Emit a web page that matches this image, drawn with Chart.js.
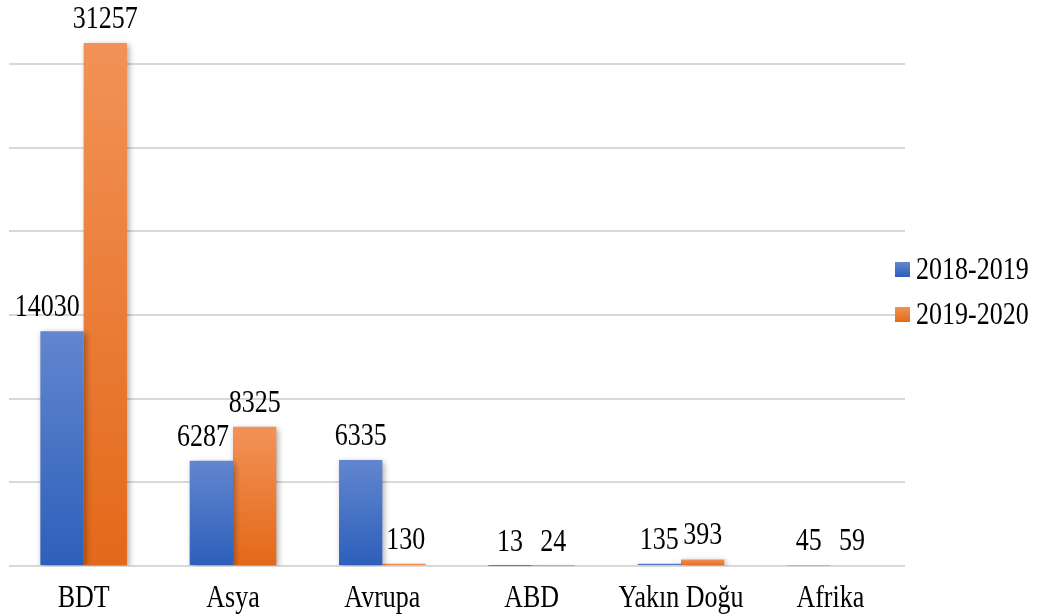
<!DOCTYPE html>
<html>
<head>
<meta charset="utf-8">
<script src="https://cdn.jsdelivr.net/npm/chart.js@4.4.0/dist/chart.umd.min.js"></script>
<style>
  html, body { margin: 0; padding: 0; background: #fff; }
  #wrap { width: 1040px; height: 616px; }
</style>
</head>
<body>
<div id="wrap"><canvas id="myChart" width="1040" height="616"></canvas></div>
<script>
// Data
const categories = ['BDT', 'Asya', 'Avrupa', 'ABD', 'Yakın Doğu', 'Afrika'];
const seriesNames = ['2018-2019', '2019-2020'];
const values2018 = [14030, 6287, 6335, 13, 135, 45];
const values2019 = [31257, 8325, 130, 24, 393, 59];
const gridTicks = [0, 5000, 10000, 15000, 20000, 25000, 30000];

const FONT = "'Liberation Serif', 'Times New Roman', serif";
const TEXT_STRETCH = 1.2; // teks di gambar asli sedikit lebih tinggi
const blueStops = ['#6286cf', '#2d5fba'];
const orangeStops = ['#f29257', '#e3691a'];

// Gradient per bar, top lighter, bottom darker
function barGradient(stops) {
    return function (context) {
        const chart = context.chart;
        const area = chart.chartArea;
        if (!area || context.type !== 'data') return stops[1];
        const y = chart.scales.y;
        const top = y.getPixelForValue(context.raw);
        const base = y.getPixelForValue(0);
        if (base - top < 2) return stops[1];
        const g = chart.ctx.createLinearGradient(0, top, 0, base);
        g.addColorStop(0, stops[0]);
        g.addColorStop(1, stops[1]);
        return g;
    };
}

// Menulis teks yang sedikit diregangkan secara vertikal
function drawText(ctx, text, x, baseline) {
    ctx.save();
    ctx.translate(x, baseline);
    ctx.scale(1, TEXT_STRETCH);
    ctx.fillText(text, 0, 0);
    ctx.restore();
}

// Drop shadow under bars
const shadowPlugin = {
    id: 'barShadow',
    beforeDatasetsDraw(chart) {
        const ctx = chart.ctx;
        ctx.save();
        ctx.shadowColor = 'rgba(0,0,0,0.35)';
        ctx.shadowBlur = 6;
        ctx.shadowOffsetX = 2;
        ctx.shadowOffsetY = 2;
    },
    afterDatasetsDraw(chart) {
        chart.ctx.restore();
    }
};

// Value labels above the bars + category labels
const textPlugin = {
    id: 'textPlugin',
    afterDatasetsDraw(chart) {
        const ctx = chart.ctx;
        ctx.save();
        ctx.font = '26px ' + FONT;
        ctx.fillStyle = '#000';
        ctx.textAlign = 'center';
        ctx.textBaseline = 'alphabetic';
        const metas = chart.data.datasets.map((d, i) => chart.getDatasetMeta(i));
        metas.forEach((meta, di) => {
            meta.data.forEach((bar, i) => {
                const text = String(chart.data.datasets[di].data[i]);
                const w = ctx.measureText(text).width;
                const baseline = bar.y - 15;
                let x = bar.x;
                // geser label jika menabrak batang sebelahnya yang lebih tinggi
                const other = metas[1 - di] && metas[1 - di].data[i];
                if (other && other.y < baseline) {
                    const half = bar.width / 2;
                    if (other.x > bar.x && x + w / 2 > other.x - half - 4) {
                        x = other.x - half - 4 - w / 2;
                    } else if (other.x < bar.x && x - w / 2 < other.x + half + 4) {
                        x = other.x + half + 4 + w / 2;
                    }
                }
                drawText(ctx, text, x, baseline);
            });
        });
        // label kategori di bawah sumbu
        const xScale = chart.scales.x;
        chart.data.labels.forEach((lab, i) => {
            drawText(ctx, lab, xScale.getPixelForValue(i), chart.chartArea.bottom + 41);
        });
        ctx.restore();
    }
};

// Legend on the right
const sideLegend = {
    id: 'sideLegend',
    afterDraw(chart) {
        const ctx = chart.ctx;
        const stops = [blueStops, orangeStops];
        ctx.save();
        ctx.font = '26px ' + FONT;
        ctx.textBaseline = 'alphabetic';
        chart.data.datasets.forEach((ds, i) => {
            const y = 262 + i * 45;
            const g = ctx.createLinearGradient(0, y, 0, y + 15);
            g.addColorStop(0, stops[i][0]);
            g.addColorStop(1, stops[i][1]);
            ctx.fillStyle = g;
            ctx.fillRect(895, y, 15, 15);
            ctx.fillStyle = '#000';
            drawText(ctx, ds.label, 916, y + 17);
        });
        ctx.restore();
    }
};

const ctx = document.getElementById('myChart').getContext('2d');
const chart = new Chart(ctx, {
    type: 'bar',
    data: {
        labels: categories,
        datasets: [
            { label: seriesNames[0], data: values2018, backgroundColor: barGradient(blueStops) },
            { label: seriesNames[1], data: values2019, backgroundColor: barGradient(orangeStops) }
        ]
    },
    options: {
        responsive: false,
        animation: false,
        layout: { padding: { left: 9, right: 135, top: 0, bottom: 50 } },
        datasets: {
            bar: { categoryPercentage: 0.58, barPercentage: 1.0, borderWidth: 0 }
        },
        plugins: {
            legend: { display: false },
            tooltip: { enabled: false }
        },
        scales: {
            x: {
                grid: { display: false, drawTicks: false },
                border: { display: false },
                ticks: { display: false }
            },
            y: {
                min: 0,
                max: 33825,
                grid: { color: '#d9d9d9', lineWidth: 2, drawTicks: false },
                border: { display: false },
                ticks: { display: false },
                afterBuildTicks(axis) {
                    axis.ticks = gridTicks.map(v => ({ value: v }));
                }
            }
        }
    },
    plugins: [shadowPlugin, textPlugin, sideLegend]
});
</script>
</body>
</html>
